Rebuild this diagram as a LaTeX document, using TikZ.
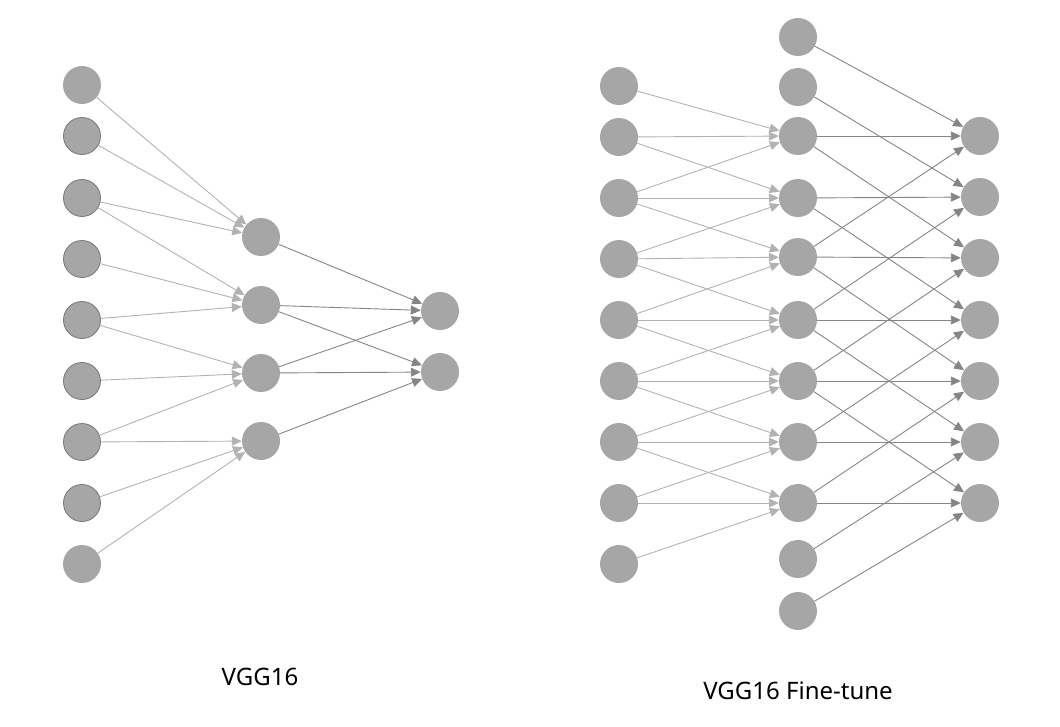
\documentclass[tikz,border=0pt]{standalone}
\usepackage{fontspec}
\setmainfont{Noto Sans}
\usetikzlibrary{arrows.meta}
\definecolor{nodegray}{HTML}{A6A6A6}
\definecolor{ringgray}{HTML}{777777}
\definecolor{lightline}{HTML}{B2B2B2}
\definecolor{darkline}{HTML}{858585}
\begin{document}
\begin{tikzpicture}[x=1pt,y=-1pt,
  neuron/.style={circle,fill=nodegray,minimum size=38pt,inner sep=0pt},
  ringed/.style={neuron,draw=ringgray,line width=0.8pt,minimum size=37pt},
  lightarrow/.style={draw=lightline,line width=0.9pt,-{Triangle[length=10pt,width=9pt]}},
  darkarrow/.style={draw=darkline,line width=0.9pt,-{Triangle[length=10pt,width=9pt]}},
  caption/.style={font=\fontsize{24}{29}\selectfont,text=black,inner sep=0pt}]
\useasboundingbox (0,0) rectangle (1060,726);

% ---------- left: VGG16 ----------
\node[neuron] (Lin1) at (82,85) {};
\node[ringed] (Lin2) at (82,136) {};
\node[ringed] (Lin3) at (82,198) {};
\node[ringed] (Lin4) at (82,259) {};
\node[ringed] (Lin5) at (82,320) {};
\node[ringed] (Lin6) at (82,381) {};
\node[ringed] (Lin7) at (82,442) {};
\node[ringed] (Lin8) at (82,503) {};
\node[neuron] (Lin9) at (82,564) {};
\foreach \y [count=\i] in {237,305,373,441}
  \node[neuron] (Lh\i) at (261,\y) {};
\foreach \y [count=\i] in {311,372}
  \node[neuron] (Lo\i) at (440,\y) {};

\foreach \h/\a in {1/1,2/3,3/5,4/7}
  \foreach \d in {0,1,2} {
    \pgfmathtruncatemacro\s{\a+\d}
    \draw[lightarrow] (Lin\s) -- (Lh\h);
  }
\foreach \h/\o in {1/1,2/1,2/2,3/1,3/2,4/2}
  \draw[darkarrow] (Lh\h) -- (Lo\o);

% ---------- right: VGG16 Fine-tune ----------
\foreach \y [count=\i] in {86,137,198,259,320,381,442,503,564}
  \node[neuron] (Rin\i) at (619,\y) {};
\foreach \y [count=\i from 0] in {37,87,136,198,257,320,381,442,503,559,611}
  \node[neuron] (Rm\i) at (798,\y) {};
\foreach \y [count=\i] in {136,197,258,320,381,442,503}
  \node[neuron] (Ro\i) at (980,\y) {};

\foreach \k in {2,...,8}
  \foreach \d in {0,1,2} {
    \pgfmathtruncatemacro\s{\k-1+\d}
    \draw[lightarrow] (Rin\s) -- (Rm\k);
  }
\foreach \j in {1,...,7}
  \foreach \d in {-1,1,3} {
    \pgfmathtruncatemacro\s{\j+\d}
    \draw[darkarrow] (Rm\s) -- (Ro\j);
  }

% ---------- captions ----------
\node[caption] (capA) at (260,677) {VGG16};
\node[caption] (capB) at (798,691) {VGG16 Fine-tune};
\end{tikzpicture}
\end{document}
